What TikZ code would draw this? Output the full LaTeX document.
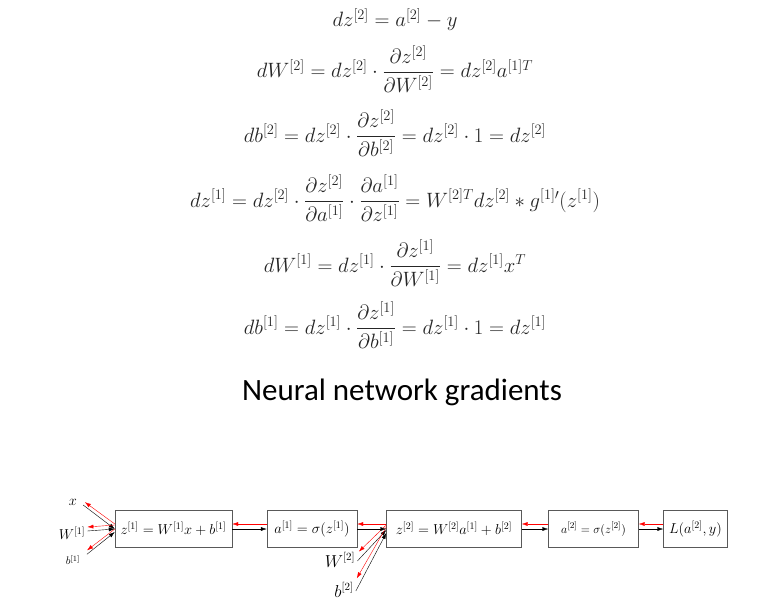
\documentclass[tikz,border=0pt]{standalone}
\usepackage{amsmath}
\usepackage{fontspec}
\newfontfamily\titlefont{Carlito}
\usetikzlibrary{arrows.meta}

\begin{document}
\begin{tikzpicture}[x=1pt,y=-1pt,
        eqn/.style={anchor=base,text=black!85,font=\fontsize{20}{24}\selectfont},
        box/.style={draw=black!65,minimum height=37pt,inner sep=0pt,font=\fontsize{14.5}{16}\selectfont},
        lbl/.style={inner sep=2pt,font=\fontsize{14}{16}\selectfont},
        fwd/.style={-{Latex[length=6pt,width=4pt]},black},
        bwd/.style={-{Latex[length=6pt,width=4pt]},red}]
    \useasboundingbox (0,0) rectangle (759,607);
    % gradients
    \node[eqn] (e1) at (395,27) {$dz^{[2]} = a^{[2]} - y$};
    \node[eqn] (e2) at (395,78) {$dW^{[2]} = dz^{[2]} \cdot \dfrac{\partial z^{[2]}}{\partial W^{[2]}} = dz^{[2]} a^{[1]T}$};
    \node[eqn] (e3) at (395,142) {$db^{[2]} = dz^{[2]} \cdot \dfrac{\partial z^{[2]}}{\partial b^{[2]}} = dz^{[2]} \cdot 1 = dz^{[2]}$};
    \node[eqn] (e4) at (395,207) {$dz^{[1]} = dz^{[2]} \cdot \dfrac{\partial z^{[2]}}{\partial a^{[1]}} \cdot \dfrac{\partial a^{[1]}}{\partial z^{[1]}} = W^{[2]T} dz^{[2]} * g^{[1]\prime}(z^{[1]})$};
    \node[eqn] (e5) at (395,272) {$dW^{[1]} = dz^{[1]} \cdot \dfrac{\partial z^{[1]}}{\partial W^{[1]}} = dz^{[1]} x^{T}$};
    \node[eqn] (e6) at (395,334) {$db^{[1]} = dz^{[1]} \cdot \dfrac{\partial z^{[1]}}{\partial b^{[1]}} = dz^{[1]} \cdot 1 = dz^{[1]}$};
    \node[anchor=base,font=\titlefont\fontsize{31}{36}\selectfont] (title) at (402,400) {Neural network gradients};
    % network
    \node[box,minimum width=117pt] (z1) at (173.5,529) {$z^{[1]} = W^{[1]}x + b^{[1]}$};
    \node[box,minimum width=90pt] (a1) at (312,529) {$a^{[1]} = \sigma(z^{[1]})$};
    \node[box,minimum width=135pt] (z2) at (454,529) {$z^{[2]} = W^{[2]}a^{[1]} + b^{[2]}$};
    \node[box,minimum width=90pt,font=\fontsize{13}{15}\selectfont] (a2) at (593.5,529) {$a^{[2]} = \sigma(z^{[2]})$};
    \node[box,minimum width=64pt] (L) at (695.5,529) {$L(a^{[2]}, y)$};
    \node[lbl] (xin) at (73,502) {$x$};
    \node[lbl] (W1) at (72,533) {$W^{[1]}$};
    \node[lbl,font=\fontsize{11}{13}\selectfont] (b1) at (73,560) {$b^{[1]}$};
    \node[lbl,font=\fontsize{16}{18}\selectfont] (W2) at (340,560) {$W^{[2]}$};
    \node[lbl,font=\fontsize{16}{18}\selectfont] (b2) at (344,590) {$b^{[2]}$};
    % inputs
    \draw[fwd,shorten <=5pt] (xin.east) -- (z1.west);
    \draw[bwd,shorten >=7pt] ([yshift=5pt]z1.west) -- ([yshift=4pt]xin.east);
    \draw[fwd] ([yshift=2pt]W1.east) -- (z1.west);
    \draw[bwd] ([yshift=4pt]z1.west) -- ([yshift=6pt]W1.east);
    \draw[fwd,shorten <=6pt] ([yshift=2pt]b1.east) -- ([yshift=-3pt]z1.west);
    \draw[bwd,shorten >=6pt] (z1.west) -- ([yshift=6pt]b1.east);
    \draw[fwd] ([yshift=-1pt]W2.east) -- ([yshift=-1pt]z2.west);
    \draw[bwd,shorten >=2pt] ([yshift=4pt]z2.west) -- ([yshift=7pt]W2.east);
    \draw[fwd] ([yshift=-1pt]b2.east) -- ([yshift=-4pt]z2.west);
    \draw[bwd,shorten >=2pt] ([yshift=2pt]z2.west) -- ([yshift=10pt]b2.east);
    % forward and backward
    \draw[fwd] (z1.east) -- (a1.west);
    \draw[bwd] ([yshift=5pt]a1.west) -- ([yshift=5pt]z1.east);
    \draw[fwd] (a1.east) -- (z2.west);
    \draw[bwd] ([yshift=5pt]z2.west) -- ([yshift=5pt]a1.east);
    \draw[fwd] (z2.east) -- (a2.west);
    \draw[bwd] ([yshift=5pt]a2.west) -- ([yshift=5pt]z2.east);
    \draw[fwd] (a2.east) -- (L.west);
    \draw[bwd] ([yshift=5pt]L.west) -- ([yshift=5pt]a2.east);
\end{tikzpicture}
\end{document}
